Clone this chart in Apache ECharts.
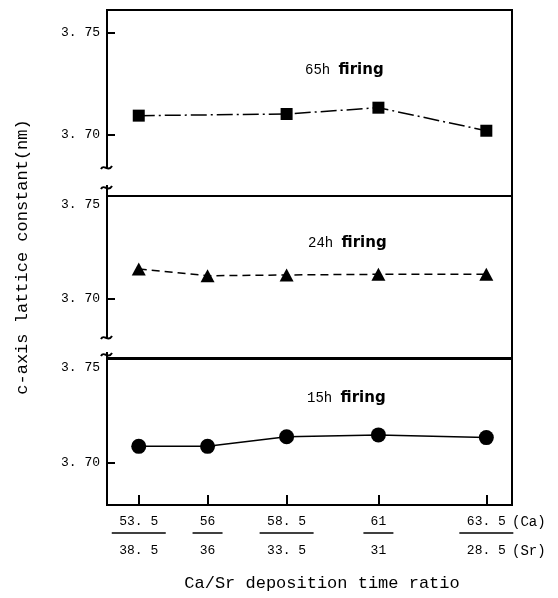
<!DOCTYPE html>
<html>
<head>
<meta charset="utf-8">
<script src="https://cdn.jsdelivr.net/npm/echarts@6/dist/echarts.min.js"></script>
<style>
html, body { margin: 0; background: #fff; }
#main { width: 558px; height: 598px; }
</style>
</head>
<body>
<div id="main"></div>
<script>
// deposition times (Ca over Sr)
const caTime = [53.5, 56, 58.5, 61, 63.5];
const srTime = [38.5, 36, 33.5, 31, 28.5];
// c-axis lattice constant (nm) per firing time, null = not measured
const firing65h = [3.7095, null, 3.7103, 3.7134, 3.7021];
const firing24h = [3.7146, 3.7113, 3.7117, 3.712, 3.712];
const firing15h = [3.708, 3.708, 3.7126, 3.7135, 3.7122];
const yTicks = [3.70, 3.75];

const ratio = caTime.map((c, i) => c / srTime[i]);
const mono = '"Liberation Mono", "DejaVu Sans Mono", monospace';

function pairs(vals) {
    return ratio.map((x, i) => [x, vals[i]]).filter(d => d[1] != null);
}

function makeX(gridIndex, show) {
    return {
        type: 'value',
        gridIndex: gridIndex,
        min: 1.313,
        max: 2.29,
        show: show,
        axisLine: { show: false },
        splitLine: { show: false },
        axisTick: {
            show: true,
            inside: true,
            length: 10,
            customValues: ratio,
            lineStyle: { color: '#000', width: 2 }
        },
        axisLabel: {
            customValues: ratio,
            margin: 7,
            color: '#000',
            fontFamily: mono,
            fontSize: 13,
            formatter: function (v) {
                const i = ratio.findIndex(r => Math.abs(r - v) < 1e-6);
                if (i < 0) return '';
                const top = String(caTime[i]).replace('.', '. ');
                const bot = String(srTime[i]).replace('.', '. ');
                const bar = top.length > 2 ? 'l4' : 'l2';
                return '{n|' + top + '}\n{' + bar + '| }\n{d|' + bot + '}';
            },
            rich: {
                n: { fontFamily: mono, fontSize: 13, lineHeight: 20, color: '#000' },
                d: { fontFamily: mono, fontSize: 13, lineHeight: 34, color: '#000' },
                l4: { width: 54, height: 1.5, lineHeight: 2, backgroundColor: '#000' },
                l2: { width: 30, height: 1.5, lineHeight: 2, backgroundColor: '#000' }
            }
        }
    };
}

function makeY(gridIndex, min, max, dropTop) {
    return {
        type: 'value',
        gridIndex: gridIndex,
        min: min,
        max: max,
        axisLine: { show: false },
        splitLine: { show: false },
        axisTick: {
            show: true,
            inside: true,
            length: 8,
            customValues: yTicks,
            lineStyle: { color: '#000', width: 2 }
        },
        axisLabel: {
            customValues: yTicks,
            margin: 7,
            color: '#000',
            fontFamily: mono,
            fontSize: 13,
            formatter: function (v) {
                const s = v.toFixed(2).replace('.', '. ');
                return (dropTop && v > 3.74) ? '{s|' + s + '}' : s;
            },
            rich: {
                s: { fontFamily: mono, fontSize: 13, color: '#000', padding: [18, 0, 0, 0] }
            }
        }
    };
}

const line = { color: '#000', width: 1.5 };

function panelTitle(hours, x, y) {
    return {
        type: 'text',
        x: x,
        y: y,
        style: {
            text: '{n|' + hours + ' }{b|firing}',
            font: '14px "Liberation Mono"',
            verticalAlign: 'middle',
            rich: {
                n: { font: '14px "Liberation Mono"', fontFamily: 'Liberation Mono', fontSize: 14, fill: '#000' },
                b: { font: 'bold 15px "DejaVu Sans"', fontFamily: 'DejaVu Sans', fontWeight: 'bold', fontSize: 15, fill: '#000' }
            }
        }
    };
}

function axisBreak(yTop, yBot) {
    return [
        { type: 'rect', shape: { x: 101, y: yTop + 2, width: 12, height: yBot - yTop - 4 }, style: { fill: '#fff' }, z: 100 },
        { type: 'bezierCurve', shape: { x1: 101, y1: yTop + 2, cpx1: 104, cpy1: yTop - 4, cpx2: 108, cpy2: yTop + 6, x2: 112, y2: yTop - 1 }, style: { stroke: '#000', lineWidth: 2, fill: null }, z: 101 },
        { type: 'bezierCurve', shape: { x1: 101, y1: yBot + 2, cpx1: 104, cpy1: yBot - 4, cpx2: 108, cpy2: yBot + 6, x2: 112, y2: yBot - 1 }, style: { stroke: '#000', lineWidth: 2, fill: null }, z: 101 }
    ];
}

const option = {
    animation: false,
    backgroundColor: '#fff',
    grid: [
        { left: 107, right: 46, top: 10, height: 186, show: true, borderColor: '#000', borderWidth: 2, containLabel: false },
        { left: 107, right: 46, top: 196, height: 162, show: true, borderColor: '#000', borderWidth: 2, containLabel: false },
        { left: 107, right: 46, top: 359, height: 146, show: true, borderColor: '#000', borderWidth: 2, containLabel: false }
    ],
    xAxis: [makeX(0, false), makeX(1, false), makeX(2, true)],
    yAxis: [
        makeY(0, 3.6701, 3.7613, false),
        makeY(1, 3.6714, 3.75, true),
        makeY(2, 3.6798, 3.75, true)
    ],
    series: [
        {
            name: '65h firing', type: 'line', xAxisIndex: 0, yAxisIndex: 0,
            data: pairs(firing65h),
            symbol: 'rect', symbolSize: 12,
            lineStyle: Object.assign({}, line, { type: [16, 4, 2, 4] }),
            itemStyle: { color: '#000' }
        },
        {
            name: '24h firing', type: 'line', xAxisIndex: 1, yAxisIndex: 1,
            data: pairs(firing24h),
            symbol: 'triangle', symbolSize: [14, 13],
            lineStyle: Object.assign({}, line, { type: [8, 5] }),
            itemStyle: { color: '#000' }
        },
        {
            name: '15h firing', type: 'line', xAxisIndex: 2, yAxisIndex: 2,
            data: pairs(firing15h),
            symbol: 'circle', symbolSize: 15,
            lineStyle: line,
            itemStyle: { color: '#000' }
        }
    ],
    graphic: [
        panelTitle('65h', 305, 70),
        panelTitle('24h', 308, 243),
        panelTitle('15h', 307, 398),
        {
            type: 'text', x: 512, y: 522,
            style: { text: '(Ca)', fontFamily: mono, fontSize: 14, fill: '#000', verticalAlign: 'middle' }
        },
        {
            type: 'text', x: 512, y: 551,
            style: { text: '(Sr)', fontFamily: mono, fontSize: 14, fill: '#000', verticalAlign: 'middle' }
        },
        {
            type: 'text', x: 322, y: 583,
            style: { text: 'Ca/Sr deposition time ratio', fontFamily: mono, fontSize: 17, fill: '#000', align: 'center', verticalAlign: 'middle' }
        },
        {
            type: 'text', x: 22, y: 257, rotation: Math.PI / 2,
            style: { text: 'c-axis lattice constant(nm)', fontFamily: mono, fontSize: 17, fill: '#000', align: 'center', verticalAlign: 'middle' }
        }
    ].concat(axisBreak(167, 187), axisBreak(337, 354))
};

const chart = echarts.init(document.getElementById('main'));
chart.setOption(option);
</script>
</body>
</html>
